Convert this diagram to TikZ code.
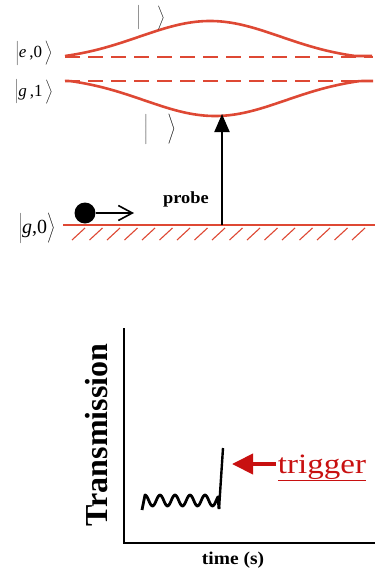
\documentclass[tikz,border=0pt]{standalone}
\usepackage{fontspec}
\setmainfont{Liberation Serif}
\usetikzlibrary{arrows.meta}

\definecolor{levelred}{RGB}{222,72,52}
\definecolor{trigred}{RGB}{200,16,16}

\begin{document}
\begin{tikzpicture}[x=1pt, y=-1pt,
  level/.style={levelred, line width=2.6pt},
  bare/.style={levelred, line width=2pt, dash pattern=on 15pt off 8pt},
  hatch/.style={levelred, line width=1.1pt},
  ket/.style={font=\fontsize{17}{19}\selectfont, inner sep=0pt},
  bigket/.style={font=\fontsize{20}{22}\selectfont, inner sep=0pt},
  lbl/.style={font=\bfseries\fontsize{17}{20}\selectfont, inner sep=1pt},
  ball/.style={circle, fill=black, minimum size=21pt, inner sep=0pt},
  axis/.style={line width=2pt},
  signal/.style={line width=2.8pt, line join=round},
  arr/.style={-{Triangle[length=18pt, width=15pt]}, line width=2pt},
  tarr/.style={-{Triangle[length=21pt, width=20pt]}, line width=4pt, trigred}]
\useasboundingbox (0,0) rectangle (375,573);

% bare and dressed levels
\draw[bare] (65,57) -- (373,57);
\draw[bare] (65,81) -- (373,81);
\draw[level] plot[domain=65:372, samples=90, smooth]
  (\x, {56-35*max(0,(exp(-(((\x-210)/100)^2))-0.122)/0.878)});
\draw[level] plot[domain=65:373, samples=90, smooth]
  (\x, {81+35*max(0,(exp(-(((\x-215)/100)^2))-0.122)/0.878)});
\node[ket] (e0) at (34,53)
  {$\left|\rule[-6pt]{0pt}{19pt}\hbox{\itshape e\upshape\,,0\,}\right\rangle$};
\node[ket] (g1) at (34,92)
  {$\left|\rule[-8pt]{0pt}{21pt}\hbox{\itshape g\upshape\,,1\,}\right\rangle$};
\node[ket] (up) at (151,18) {$\left|\rule[-8pt]{0pt}{21pt}\hspace{17pt}\right\rangle$};
\node[ket] (down) at (160,129) {$\left|\rule[-10pt]{0pt}{27pt}\hspace{20pt}\right\rangle$};

% ground state
\draw[level] (63,225) -- (375,225);
\foreach \i in {0,...,16}
  \draw[hatch] ({72+17.5*\i},240) -- ++(13,-12);
\node[bigket] (g0) at (37,228)
  {$\left|\rule[-9pt]{0pt}{26pt}\hbox{\itshape g\upshape,0}\right\rangle$};
\node[ball] (atom) at (85,213) {};
\coordinate (push) at (134,213);
\draw[-{Straight Barb[length=14pt, width=15pt]}, line width=1.6pt] (atom) -- (push);
\node[lbl] (probe) at (186,199) {\scalebox{1.08}[1]{probe}};
\coordinate (gnd) at (222,225);
\coordinate (dip) at (222,114);
\draw[arr] (gnd) -- (dip);

% transmission trace
\coordinate (ytop) at (124,328);
\coordinate (orig) at (124,543);
\coordinate (xend) at (375,543);
\draw[axis] (ytop) -- (orig) -- (xend);
\node[font=\bfseries\fontsize{32}{34}\selectfont, rotate=90, inner sep=0pt] (trans) at (97,435) {Transmission};
\node[lbl, font=\bfseries\fontsize{18}{20}\selectfont] (time) at (233,560) {\scalebox{1.08}[1]{time (s)}};
\coordinate (spikebase) at (219,509);
\coordinate (spiketop) at (223,448);
\draw[signal] (142,510) -- plot[domain=0:73, samples=80, smooth]
  ({145+\x}, {500.5-5.5*cos(24*\x)}) -- (spikebase);
\draw[line width=2.4pt] (spikebase) -- (spiketop);
\node[font=\fontsize{28}{30}\selectfont, text=trigred, inner sep=2pt] (trig) at (322,468)
  {\scalebox{1.18}[1]{\underline{trigger}}};
\coordinate (hit) at (232,464);
\draw[tarr] (trig.west |- hit) -- (hit);
\end{tikzpicture}
\end{document}
